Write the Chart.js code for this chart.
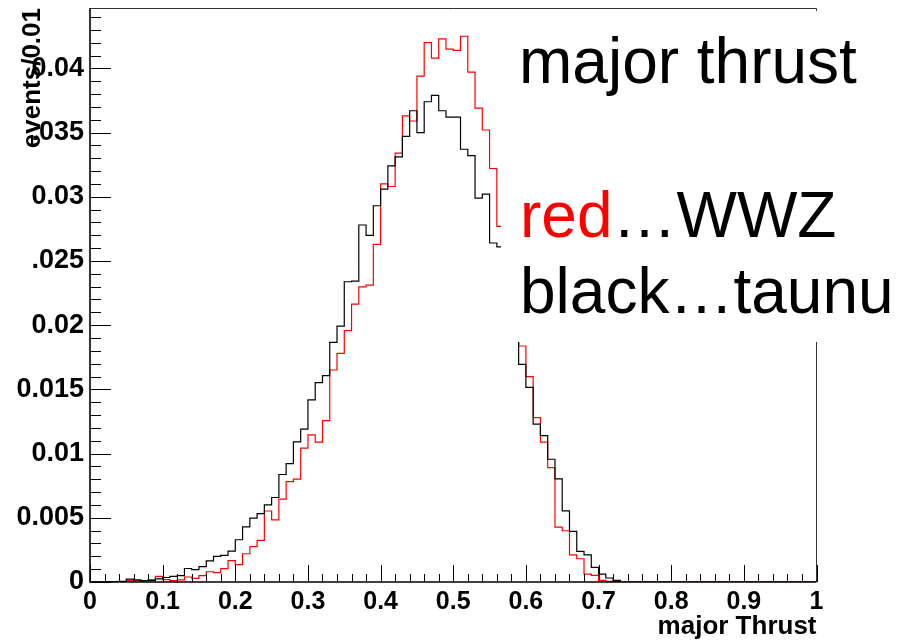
<!DOCTYPE html>
<html>
<head>
<meta charset="utf-8">
<title>major thrust</title>
<script src="https://cdn.jsdelivr.net/npm/chart.js@4.4.1/dist/chart.umd.min.js"></script>
<style>
  html, body { margin: 0; padding: 0; background: #fff; }
  canvas { display: block; }
</style>
</head>
<body>
<canvas id="c" width="910" height="644"></canvas>
<script>
// 100 bins of width 0.01 on [0, 1]
const X_MIN = 0;
const X_MAX = 1;
const BIN_WIDTH = 0.01;
const Y_MAX = 0.0447;

// events/0.01 per bin, red = WWZ
const WWZ = [
  0,       0,       0.00003, 0.00003, 0.00003, 0.0001,  0.0001,  0.00008, 0.00018, 0.00044,
  0.00018, 0.0001,  0.00016, 0.00039, 0.00029, 0.00049, 0.0008,  0.00073, 0.00104, 0.00166,
  0.00135, 0.0022,  0.00275, 0.00324, 0.00553, 0.00484, 0.00645, 0.00782, 0.00801, 0.01042,
  0.01145, 0.01089, 0.01257, 0.01651, 0.01781, 0.01957, 0.02164, 0.02299, 0.02312, 0.0263,
  0.0310,  0.0308,  0.0334,  0.0363,  0.0359,  0.0394,  0.0420,  0.0408,  0.0423,  0.0415,
  0.0414,  0.0425,  0.0397,  0.0369,  0.0352,  0.0322,  0.0277,  0.0245,  0.0215,  0.01838,
  0.01599, 0.0128,  0.01089, 0.00891, 0.00428, 0.00399, 0.00212, 0.00181, 0.00062, 0.00052,
  0.00013, 0.00005, 0.00003, 0,       0,       0,       0,       0,       0,       0,
  0,       0,       0,       0,       0,       0,       0,       0,       0,       0,
  0,       0,       0,       0,       0,       0,       0,       0,       0,       0,
];

// black = taunu
const TAUNU = [
  0,       0,       0.00003, 0.00003, 0.00005, 0.00023, 0.00016, 0.0001,  0.0001,  0.00025,
  0.00035, 0.00044, 0.00049, 0.00105, 0.00097, 0.0012,  0.00165, 0.002,   0.00208, 0.0024,
  0.00329, 0.0043,  0.00498, 0.00533, 0.00601, 0.00658, 0.00837, 0.00922, 0.01091, 0.0119,
  0.01418, 0.01552, 0.01607, 0.01866, 0.01993, 0.02338, 0.02343, 0.0278,  0.0270,  0.0293,
  0.0306,  0.0324,  0.0331,  0.0347,  0.0367,  0.0350,  0.0374,  0.0379,  0.0367,  0.0362,
  0.0362,  0.0337,  0.0332,  0.0299,  0.0302,  0.0264,  0.0261,  0.0230,  0.0200,  0.01695,
  0.01516, 0.01229, 0.0114,  0.00956, 0.00803, 0.00554, 0.00394, 0.00238, 0.00212, 0.00114,
  0.00062, 0.00031, 0.00013, 0,       0,       0,       0,       0,       0,       0,
  0,       0,       0,       0,       0,       0,       0,       0,       0,       0,
  0,       0,       0,       0,       0,       0,       0,       0,       0,       0,
];

const X_TICKS       = [0, 0.1, 0.2, 0.3, 0.4, 0.5, 0.6, 0.7, 0.8, 0.9, 1];
const X_TICK_LABELS = ['0', '0.1', '0.2', '0.3', '0.4', '0.5', '0.6', '0.7', '0.8', '0.9', '1'];
const Y_TICKS       = [0, 0.005, 0.01, 0.015, 0.02, 0.025, 0.03, 0.035, 0.04];
const Y_TICK_LABELS = ['0', '0.005', '0.01', '0.015', '0.02', '.025', '0.03', '.035', '0.04'];

const FONT = '"Liberation Sans", Arial, Helvetica, sans-serif';

// bin low edges + closing edge, drawn as a stepped line
function toSteps(vals) {
  const pts = vals.map((v, i) => ({ x: X_MIN + i * BIN_WIDTH, y: v }));
  pts.push({ x: X_MAX, y: vals[vals.length - 1] });
  return pts;
}

// ROOT-style frame with inward ticks
const rootFrame = {
  id: 'rootFrame',
  afterDatasetsDraw(chart) {
    const { ctx, chartArea: { left, right, top, bottom } } = chart;
    const xs = chart.scales.x, ys = chart.scales.y;
    ctx.save();
    ctx.strokeStyle = '#000';
    ctx.lineWidth = 1;
    ctx.beginPath();
    for (let k = 0; k * 0.02 <= X_MAX + 1e-9; k++) {
      const px = Math.round(xs.getPixelForValue(k * 0.02)) + 0.5;
      const len = k % 5 === 0 ? 17 : 8;
      ctx.moveTo(px, bottom);
      ctx.lineTo(px, bottom - len);
    }
    for (let k = 0; k * 0.001 <= Y_MAX; k++) {
      const py = Math.round(ys.getPixelForValue(k * 0.001)) + 0.5;
      const len = k % 5 === 0 ? 21 : 11;
      ctx.moveTo(left, py);
      ctx.lineTo(left + len, py);
    }
    ctx.stroke();

    ctx.strokeStyle = '#333';
    ctx.beginPath();
    ctx.moveTo(left, top + 0.5);
    ctx.lineTo(right, top + 0.5);
    ctx.lineTo(right, bottom);
    ctx.stroke();

    ctx.strokeStyle = '#000';
    ctx.lineWidth = 1.6;
    ctx.beginPath();
    ctx.moveTo(left, top);
    ctx.lineTo(left, bottom);
    ctx.lineTo(right, bottom);
    ctx.stroke();
    ctx.restore();
  },
};

// white text pave in the upper right
const textPave = {
  id: 'textPave',
  afterDraw(chart) {
    const { ctx } = chart;
    ctx.save();
    ctx.fillStyle = '#fff';
    ctx.fillRect(501, 11, 409, 331);
    ctx.font = '64px ' + FONT;
    ctx.textAlign = 'left';
    ctx.textBaseline = 'alphabetic';
    ctx.fillStyle = '#000';
    ctx.fillText('major thrust', 519, 83);
    ctx.fillStyle = '#ff0000';
    ctx.fillText('red', 520, 237);
    const w = ctx.measureText('red').width;
    ctx.fillStyle = '#000';
    ctx.fillText('\u2026WWZ', 520 + w, 237);
    ctx.fillText('black\u2026taunu', 520, 313);
    ctx.restore();
  },
};

new Chart(document.getElementById('c'), {
  type: 'line',
  data: {
    datasets: [
      {
        label: 'taunu',
        data: toSteps(TAUNU),
        borderColor: '#000',
        borderWidth: 1.2,
        stepped: true,
        pointRadius: 0,
        fill: false,
      },
      {
        label: 'WWZ',
        data: toSteps(WWZ),
        borderColor: '#ff0000',
        borderWidth: 1.2,
        stepped: true,
        pointRadius: 0,
        fill: false,
      },
    ],
  },
  options: {
    responsive: false,
    animation: false,
    events: [],
    layout: { padding: { top: 8, right: 93.5, left: 0, bottom: 0 } },
    plugins: {
      legend: { display: false },
      tooltip: { enabled: false },
    },
    scales: {
      x: {
        type: 'linear',
        min: X_MIN,
        max: X_MAX,
        grid: { display: false, drawTicks: false },
        border: { display: false },
        afterBuildTicks: (s) => { s.ticks = X_TICKS.map(v => ({ value: v })); },
        afterFit: (s) => { s.height = 62; s.paddingLeft = 0; s.paddingRight = 0; },
        ticks: {
          autoSkip: false,
          maxRotation: 0,
          padding: 5,
          color: '#000',
          font: { family: FONT, size: 25, weight: 'bold' },
          callback: (v, i) => X_TICK_LABELS[i],
        },
        title: {
          display: true,
          text: 'major Thrust',
          align: 'end',
          color: '#000',
          padding: { top: 0, bottom: 2 },
          font: { family: FONT, size: 26, weight: 'bold' },
        },
      },
      y: {
        type: 'linear',
        min: 0,
        max: Y_MAX,
        grid: { display: false, drawTicks: false },
        border: { display: false },
        afterBuildTicks: (s) => { s.ticks = Y_TICKS.map(v => ({ value: v })); },
        afterFit: (s) => { s.width = 90; s.paddingTop = 0; s.paddingBottom = 0; },
        ticks: {
          autoSkip: false,
          padding: 6,
          color: '#000',
          font: { family: FONT, size: 27, weight: 'bold' },
          callback: (v, i) => Y_TICK_LABELS[i],
        },
        title: {
          display: true,
          text: 'events/0.01',
          align: 'end',
          color: '#000',
          padding: { top: 17, bottom: 0 },
          font: { family: FONT, size: 26, weight: 'bold' },
        },
      },
    },
  },
  plugins: [rootFrame, textPave],
});
</script>
</body>
</html>
